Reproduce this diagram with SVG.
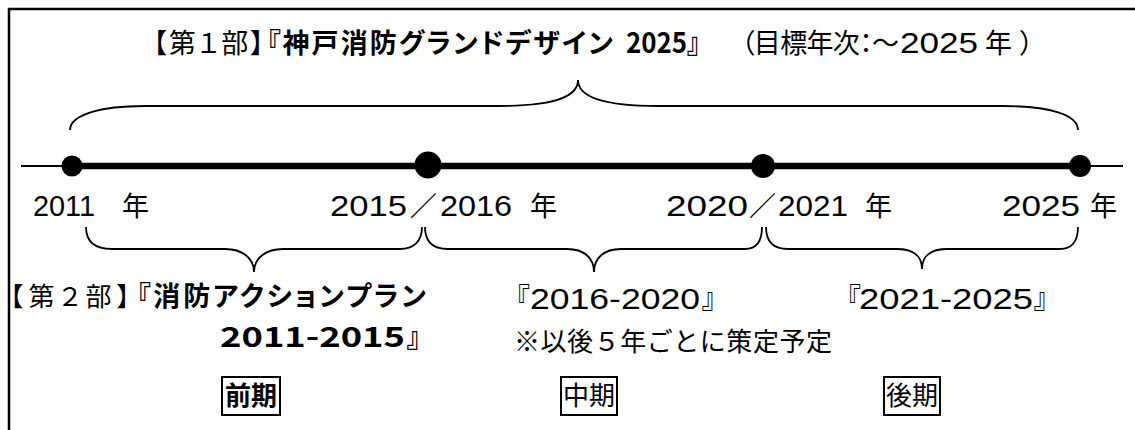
<svg xmlns="http://www.w3.org/2000/svg" width="1135" height="430" viewBox="0 0 1135 430">
<style>
.j{font-family:"Noto Sans CJK JP","Noto Sans",sans-serif;font-size:27px;fill:#000}
.p{font-feature-settings:"palt"}
.d{font-family:"Liberation Sans",Arial,sans-serif;font-size:29px;fill:#000}
.db{font-family:"Noto Sans CJK JP","Noto Sans",sans-serif;font-size:28px;font-weight:bold;fill:#000}
.b{font-weight:bold}
.br{fill:none;stroke:#000;stroke-width:1.8}
.box{fill:#fff;stroke:#000;stroke-width:2}
</style>
<rect width="1135" height="430" fill="#fff"/>
<g id="frame">
<path d="M9,430 V9 H1135" fill="none" stroke="#000" stroke-width="2.5"/>
</g>
<g id="title">
<text class="j p" x="153" y="53" textLength="111" lengthAdjust="spacing">【第１部】</text>
<text class="j p b" x="267" y="53" textLength="346" lengthAdjust="spacing">『神戸消防グランドデザイン</text>
<text class="db p" x="626" y="53" textLength="74" lengthAdjust="spacingAndGlyphs">2025』</text>
<text class="j p" x="741" y="53" textLength="158" lengthAdjust="spacing">（目標年次：～</text>
<text class="d" x="900" y="53" style="font-size:30px" textLength="78" lengthAdjust="spacingAndGlyphs">2025</text>
<text class="j" x="985" y="53">年</text>
<text class="j p" x="1020" y="53">）</text>
</g>
<g id="connectors">
<line x1="21" y1="166" x2="1123" y2="166" stroke="#000" stroke-width="2"/>
<line x1="72" y1="166" x2="1080" y2="166" stroke="#000" stroke-width="6.5"/>
<path class="br" d="M70,130 C70,115 100,106 145,106 L498,106 C545,106 578,100 578,80 C578,100 612,106 658,106 L1003,106 C1050,106 1078,115 1078,130"/>
<path class="br" d="M86,227 C86,242 95,249 112,249 L225,249 C242,249 254,258 254,272 C254,258 266,249 283,249 L400,249 C413,249 422,242 422,227"/>
<path class="br" d="M425,227 C425,242 433,249 448,249 L567,249 C584,249 594,258 594,272 C594,258 604,249 621,249 L745,249 C756,249 762,242 762,227"/>
<path class="br" d="M766,227 C766,242 773,249 788,249 L897,249 C913,249 922,256 922,269 C922,256 931,249 947,249 L1060,249 C1071,249 1078,242 1078,227"/>
</g>
<g id="p2011">
<circle cx="72" cy="166" r="10.5"/>
<text class="d" x="33" y="216" textLength="62" lengthAdjust="spacingAndGlyphs">2011</text>
<text class="j" x="122" y="216">年</text>
</g>
<g id="p2015">
<circle cx="428" cy="165" r="13.5"/>
<text class="d" x="330" y="216" textLength="77" lengthAdjust="spacingAndGlyphs">2015</text>
<text class="j" x="410" y="216">／</text>
<text class="d" x="440" y="216" textLength="72" lengthAdjust="spacingAndGlyphs">2016</text>
<text class="j" x="530" y="216">年</text>
</g>
<g id="p2020">
<circle cx="763" cy="166" r="12"/>
<text class="d" x="666" y="216" textLength="82" lengthAdjust="spacingAndGlyphs">2020</text>
<text class="j" x="749" y="216">／</text>
<text class="d" x="778" y="216" textLength="70" lengthAdjust="spacingAndGlyphs">2021</text>
<text class="j" x="865" y="216">年</text>
</g>
<g id="p2025">
<circle cx="1080" cy="166" r="11"/>
<text class="d" x="1002" y="216" textLength="78" lengthAdjust="spacingAndGlyphs">2025</text>
<text class="j" x="1090" y="216">年</text>
</g>
<g id="plan1">
<text class="j p" x="10" y="306" style="font-size:26px" textLength="120" lengthAdjust="spacing">【第２部】</text>
<text class="j p b" x="137" y="306" textLength="289" lengthAdjust="spacing">『消防アクションプラン</text>
<text class="db" x="220" y="347" textLength="185" lengthAdjust="spacingAndGlyphs">2011-2015</text>
<text class="j p b" x="407" y="347">』</text>
<rect class="box" x="222" y="377" width="58" height="38"/>
<text class="j b" x="251" y="405" style="font-size:26px" text-anchor="middle">前期</text>
</g>
<g id="plan2">
<text class="j p" x="516" y="308">『</text>
<text class="d" x="530" y="309" textLength="170" lengthAdjust="spacingAndGlyphs">2016-2020</text>
<text class="j p" x="702" y="308">』</text>
<text class="j" x="514" y="351" style="font-size:26px" textLength="318" lengthAdjust="spacing">※以後５年ごとに策定予定</text>
<rect class="box" x="561" y="377" width="56" height="38"/>
<text class="j" x="589" y="405" style="font-size:26px" text-anchor="middle">中期</text>
</g>
<g id="plan3">
<text class="j p" x="847" y="308">『</text>
<text class="d" x="859" y="309" textLength="174" lengthAdjust="spacingAndGlyphs">2021-2025</text>
<text class="j p" x="1034" y="308">』</text>
<rect class="box" x="884" y="377" width="56" height="38"/>
<text class="j" x="912" y="405" style="font-size:26px" text-anchor="middle">後期</text>
</g>
</svg>
